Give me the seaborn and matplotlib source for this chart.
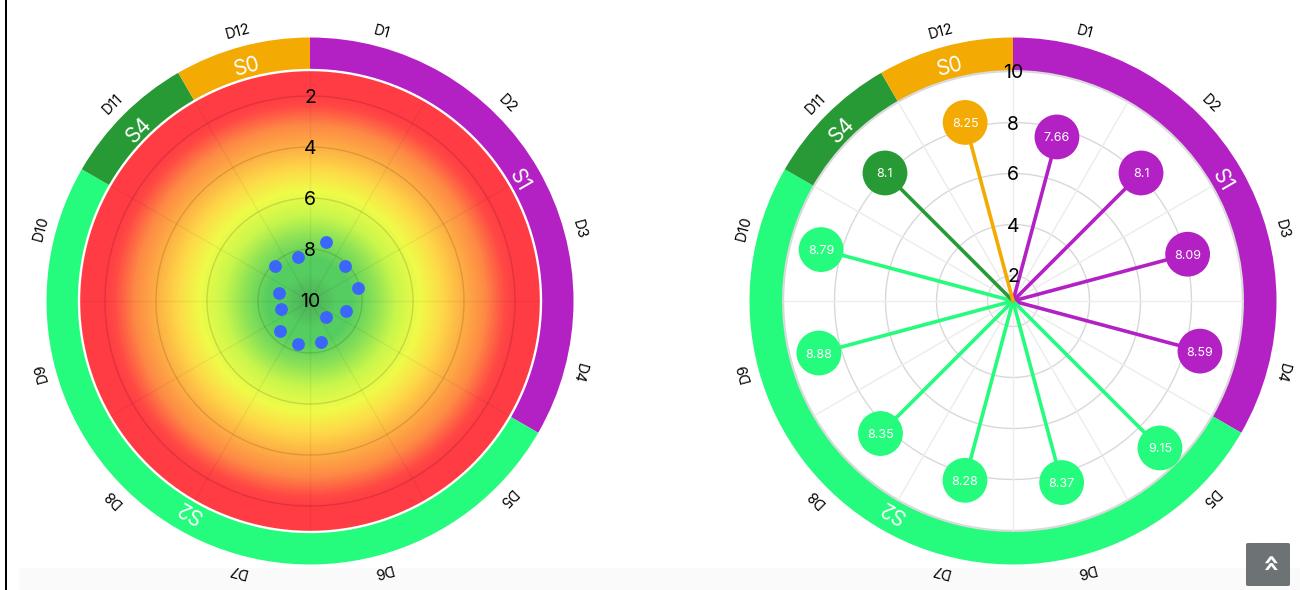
import numpy as np
import pandas as pd
import seaborn as sns
import matplotlib
matplotlib.use("Agg")
import matplotlib.pyplot as plt
from matplotlib.colors import LinearSegmentedColormap
from matplotlib.patches import Rectangle, FancyBboxPatch

# values
directions = ["D1", "D2", "D3", "D4", "D5", "D6", "D7", "D8", "D9", "D10", "D11", "D12"]
scores = [7.66, 8.1, 8.09, 8.59, 9.15, 8.37, 8.28, 8.35, 8.88, 8.79, 8.1, 8.25]
direction_segment = ["S1", "S1", "S1", "S1", "S2", "S2", "S2", "S2", "S2", "S2", "S4", "S0"]
segments = ["S1", "S2", "S4", "S0"]
segment_sectors = [4, 6, 1, 1]
segment_colors = ["#b321c4", "#25fb7c", "#289a35", "#f3aa03"]
score_ticks = [2, 4, 6, 8, 10]

# colour field of the left dial, score -> colour
gradient_scores = [1, 1.96, 2.35, 3.14, 4.0, 4.9, 5.69, 6.67, 7.45, 8.4, 9.0, 10]
gradient_colors = ["#ff3c44", "#ff3c44", "#ff4a44", "#fd8a44", "#fdb044", "#fddc48", "#f0fb48",
                   "#c8f64c", "#8ee356", "#55cd60", "#55cd60", "#4fb05a"]

W, H = 1300, 590
PX_PER_UNIT = 25.5
AX_RADIUS = 266
OUTER_RADIUS = 263.5
INNER_RADIUS = 231
LABEL_RADIUS = 280

sns.set_theme(style="white")
plt.rcParams["font.family"] = ["Inter", "DejaVu Sans"]

palette = dict(zip(segments, segment_colors))
df = pd.DataFrame({"direction": directions, "score": scores, "segment": direction_segment})
df["theta"] = np.deg2rad(15 + 30 * np.arange(len(df)))


def make_axes(fig, cx, cy):
    ax = fig.add_axes([(cx - AX_RADIUS) / W, 1 - (cy + AX_RADIUS) / H,
                       2 * AX_RADIUS / W, 2 * AX_RADIUS / H], projection="polar")
    ax.set_theta_zero_location("N")
    ax.set_theta_direction(-1)
    ax.patch.set_alpha(0)
    ax.spines["polar"].set_visible(False)
    ax.set_xticklabels([])
    ax.set_yticklabels([])
    ax.grid(False)
    return ax


def draw_ring(ax, to_r):
    # coloured segment band + direction labels, shared by both dials
    start = 0
    for name, n, color in zip(segments, segment_sectors, segment_colors):
        width = np.deg2rad(30 * n)
        mid = np.deg2rad(start) + width / 2
        ax.bar(mid, to_r(OUTER_RADIUS) - to_r(INNER_RADIUS), width=width, bottom=to_r(INNER_RADIUS),
               color=color, linewidth=0, zorder=3)
        ax.text(mid, to_r(244), name, color="white", fontsize=15, ha="center", va="center_baseline",
                rotation=-np.rad2deg(mid), rotation_mode="anchor", zorder=5)
        start += 30 * n
    for d, t in zip(df["direction"], df["theta"]):
        ax.text(t, to_r(LABEL_RADIUS), d, color="black", fontsize=10.5, ha="center", va="center_baseline",
                rotation=-np.rad2deg(t), rotation_mode="anchor", clip_on=False)


def draw_grid(ax, ticks, to_r, color, spoke_color, lw):
    circle = np.linspace(0, 2 * np.pi, 361)
    for v in ticks:
        ax.plot(circle, np.full_like(circle, v), color=color, lw=lw, zorder=2)
    for a in np.deg2rad(np.arange(0, 360, 30)):
        ax.plot([a, a], [to_r(0), to_r(INNER_RADIUS)], color=spoke_color, lw=lw, zorder=2)


fig = plt.figure(figsize=(W / 100, H / 100), dpi=100, facecolor="white")

# page furniture around the two charts
fig.add_artist(Rectangle((19 / W, 0), 1 - 19 / W, 22 / H, transform=fig.transFigure,
                         facecolor="#fafafa", edgecolor="none", zorder=-1))
fig.add_artist(Rectangle((4.5 / W, 0), 2 / W, 1, transform=fig.transFigure,
                         facecolor="black", edgecolor="none"))

# left dial: 10 in the middle, falling outwards
left = make_axes(fig, 310, 301)
left_r = lambda px: 10.04 - px / PX_PER_UNIT
left.set_rlim(10.04, left_r(AX_RADIUS))

stops = [(s - 1) / 9 for s in gradient_scores]
cmap = LinearSegmentedColormap.from_list("score", list(zip(stops, gradient_colors)))
tt, rr = np.meshgrid(np.linspace(0, 2 * np.pi, 181), np.linspace(10.04, left_r(INNER_RADIUS), 200))
left.pcolormesh(tt, rr, rr, cmap=cmap, vmin=1, vmax=10, shading="gouraud", zorder=1, rasterized=True)

draw_grid(left, score_ticks[:-1], left_r, (0, 0, 0, 0.13), (0, 0, 0, 0.05), 1)
circle = np.linspace(0, 2 * np.pi, 361)
left.plot(circle, np.full_like(circle, left_r(INNER_RADIUS)), color="white", lw=1.7, zorder=4)
draw_ring(left, left_r)
left.set_rlim(10.04, left_r(AX_RADIUS))

sns.scatterplot(data=df, x="theta", y="score", ax=left, color="#3a66fb", s=85, linewidth=0,
                legend=False, zorder=6)
for v in score_ticks:
    left.text(0, v, str(v), color="black", fontsize=14, ha="center", va="center_baseline", zorder=7)
left.set_xlabel("")
left.set_ylabel("")

# right dial: 1 in the middle, rising outwards
right = make_axes(fig, 1013, 301)
right_r = lambda px: 1 + px / PX_PER_UNIT
right.set_rlim(1, right_r(AX_RADIUS))

draw_grid(right, score_ticks, right_r, "#d8d8d8", "#ececec", 1)
right.plot(circle, np.full_like(circle, right_r(INNER_RADIUS)), color="#d8d8d8", lw=1.5, zorder=2)
draw_ring(right, right_r)
right.set_rlim(1, right_r(AX_RADIUS))

for _, row in df.iterrows():
    # estimator=None or seaborn averages the two points at the same theta
    sns.lineplot(x=[row["theta"], row["theta"]], y=[1, row["score"]], ax=right, sort=False,
                 estimator=None, color=palette[row["segment"]], lw=2.6, zorder=4)
sns.scatterplot(data=df, x="theta", y="score", ax=right, hue="segment", palette=palette, s=1040,
                linewidth=0, legend=False, zorder=5)
for _, row in df.iterrows():
    right.text(row["theta"], row["score"], f"{row['score']:g}", color="white", fontsize=9,
               ha="center", va="center_baseline", zorder=6)
for v in score_ticks:
    right.text(0, v, str(v), color="black", fontsize=14, ha="center", va="center_baseline", zorder=7)
right.set_xlabel("")
right.set_ylabel("")

# back-to-top button
fig.add_artist(FancyBboxPatch((1246 / W, 1 - 586 / H), 44 / W, 43 / H, transform=fig.transFigure,
                              boxstyle="round,pad=0,rounding_size=0.002", facecolor="#6d7275",
                              edgecolor="none", zorder=8))
fig.text(1267.5 / W, 1 - 564 / H, "\u00ab", color="white", fontsize=21, fontweight="bold", rotation=-90,
         ha="center", va="center", zorder=9, family="DejaVu Sans")

fig.savefig("out.png", dpi=100)
